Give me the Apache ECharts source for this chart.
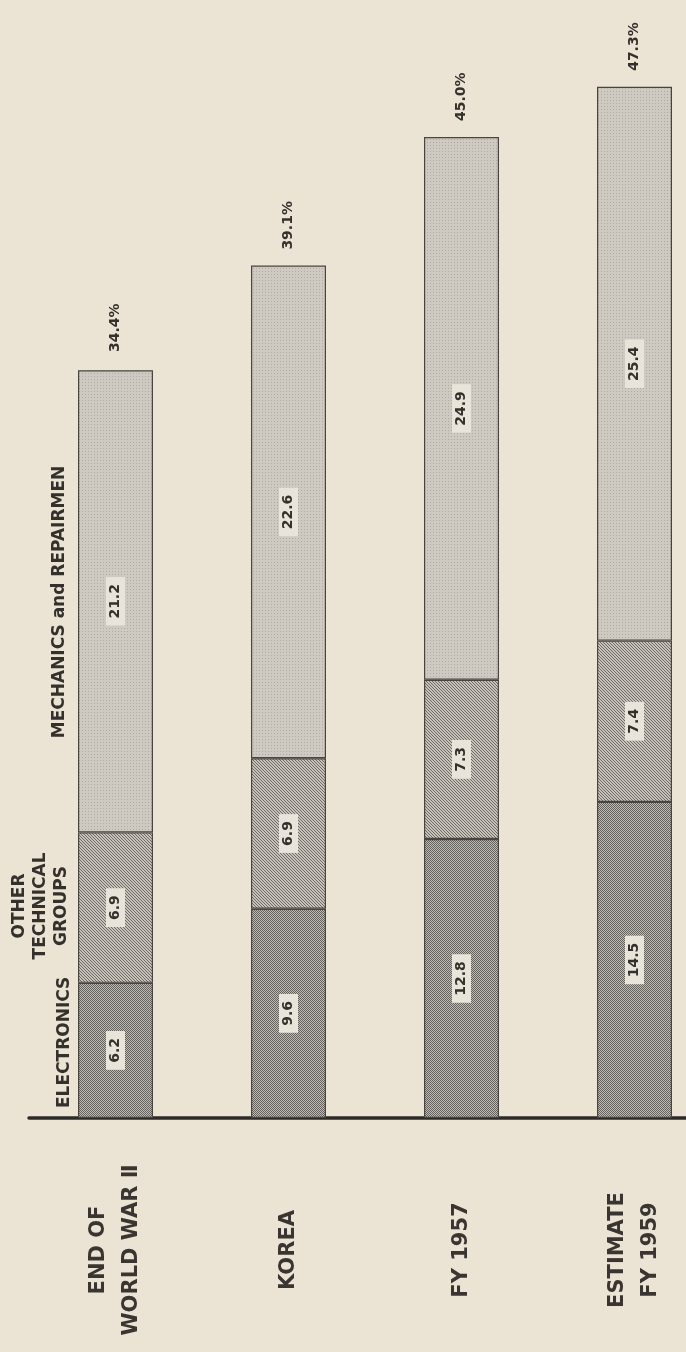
<!DOCTYPE html>
<html>
<head>
<meta charset="utf-8">
<script src="https://cdn.jsdelivr.net/npm/echarts@6/dist/echarts.min.js"></script>
<style>
html,body{margin:0;padding:0;background:#ebe4d5;overflow:hidden;}
#chart{width:686px;height:1352px;}
</style>
</head>
<body>
<div id="chart"></div>
<script>
// ---- data ----
const categories = ['END OF\nWORLD WAR Ⅱ', 'KOREA', 'FY 1957', 'ESTIMATE\nFY 1959'];
const electronics = [6.2, 9.6, 12.8, 14.5];
const otherTechnical = [6.9, 6.9, 7.3, 7.4];
const mechanics = [21.2, 22.6, 24.9, 25.4];
const totals = [34.4, 39.1, 45.0, 47.3];
const seriesNames = ['ELECTRONICS', 'OTHER\nTECHNICAL\nGROUPS', 'MECHANICS and REPAIRMEN'];

// ---- patterns ----
function makePattern(size, base, dark, pixels) {
  const c = document.createElement('canvas');
  c.width = size; c.height = size;
  const g = c.getContext('2d');
  g.fillStyle = base; g.fillRect(0, 0, size, size);
  g.fillStyle = dark;
  pixels.forEach(p => g.fillRect(p[0], p[1], 1, 1));
  return { image: c, repeat: 'repeat' };
}
const patElectronics = makePattern(2, '#c1bcb4', '#635f5a', [[0,0],[1,1]]);
const patOther = makePattern(3, '#c8c3ba', '#6e6964', [[0,0],[1,1],[2,2]]);
const patMech = makePattern(3, '#cfcac1', '#aea9a1', [[1,1]]);

const FONT = '"DejaVu Sans"';
const TXT = '#34302c';

const segLabel = {
  show: true,
  position: 'inside',
  rotate: 90,
  formatter: p => p.value.toFixed(1),
  fontFamily: FONT,
  fontWeight: 'bold',
  fontSize: 14,
  color: TXT,
  backgroundColor: '#e9e4da',
  padding: [3, 7, 2, 7]
};

function seg(name, data, pat) {
  return {
    name: name,
    type: 'bar',
    stack: 'total',
    barWidth: 75,
    data: data,
    itemStyle: { color: pat, borderColor: '#48443f', borderWidth: 1.2 },
    label: segLabel,
    silent: true
  };
}

const chart = echarts.init(document.getElementById('chart'), null, { renderer: 'canvas' });
chart.setOption({
  backgroundColor: '#ebe4d5',
  animation: false,
  grid: { left: 29, width: 692, top: 28, height: 1090, containLabel: false, outerBoundsMode: 'none' },
  xAxis: {
    type: 'category',
    data: categories,
    axisLine: { lineStyle: { color: '#2e2a27', width: 3.5 } },
    axisTick: { show: false },
    axisLabel: {
      rotate: 90,
      align: 'center',
      verticalAlign: 'middle',
      margin: 132,
      fontFamily: FONT,
      fontWeight: 'bold',
      fontSize: 21,
      lineHeight: 33,
      color: '#3a3531',
      interval: 0
    }
  },
  yAxis: { type: 'value', min: 0, max: 50, show: false, splitLine: { show: false } },
  series: [
    seg(seriesNames[0], electronics, patElectronics),
    seg(seriesNames[1], otherTechnical, patOther),
    seg(seriesNames[2], mechanics, patMech),
    {
      name: 'total',
      type: 'bar',
      barWidth: 75,
      barGap: '-100%',
      data: totals,
      silent: true,
      itemStyle: { color: 'rgba(0,0,0,0)' },
      label: {
        show: true,
        position: 'top',
        rotate: 90,
        align: 'left',
        verticalAlign: 'middle',
        distance: 16,
        formatter: p => p.value.toFixed(1) + '%',
        fontFamily: FONT,
        fontWeight: 'bold',
        fontSize: 14,
        color: TXT
      }
    }
  ],
  graphic: [
    { type: 'text', x: 65, y: 1108, rotation: Math.PI / 2,
      style: { text: seriesNames[0], font: 'bold 17px ' + FONT, fill: TXT, align: 'left', verticalAlign: 'middle' } },
    { type: 'text', x: 41, y: 906, rotation: Math.PI / 2,
      style: { text: seriesNames[1], font: 'bold 17px ' + FONT, fill: TXT, align: 'center', verticalAlign: 'middle', lineHeight: 21 } },
    { type: 'text', x: 60, y: 602, rotation: Math.PI / 2,
      style: { text: seriesNames[2], font: 'bold 17px ' + FONT, fill: TXT, align: 'center', verticalAlign: 'middle' } }
  ]
});
</script>
</body>
</html>
